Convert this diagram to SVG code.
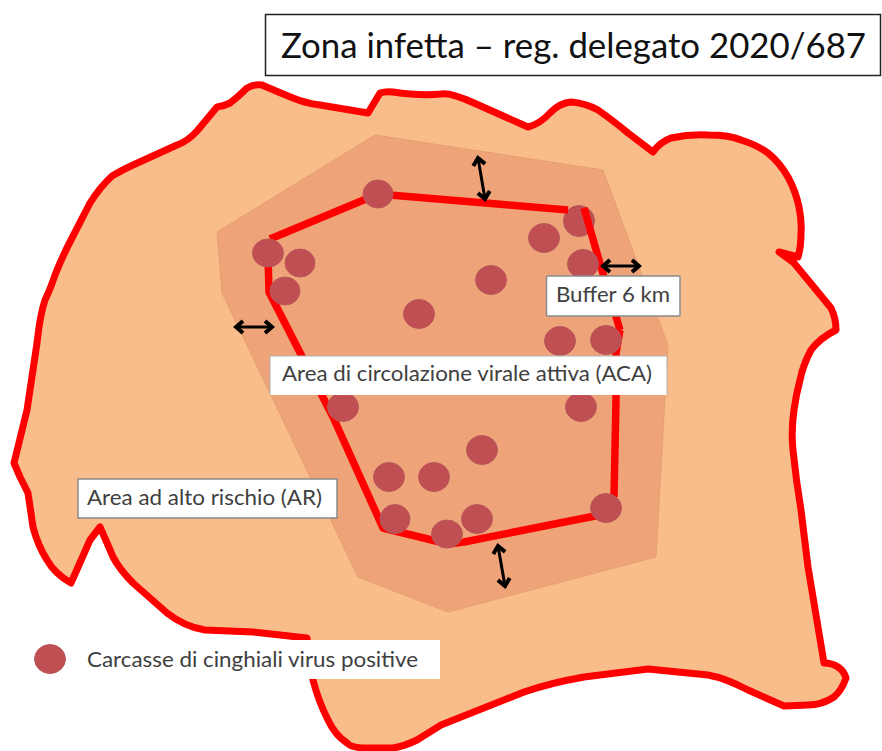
<svg xmlns="http://www.w3.org/2000/svg" width="882" height="751" viewBox="0 0 882 751">
<style>
.lbl{fill:#fff}
.edge{stroke:#8a8a8a;stroke-width:1.5}
.t{font-family:"Lato","Liberation Sans",sans-serif;font-size:20.500px;fill:#404040}
.dot{fill:#bf5052;stroke:#b8565a;stroke-width:1}
.red{fill:none;stroke:#f00;stroke-width:7.500;stroke-linejoin:round;stroke-linecap:butt}
.arr{stroke:#000;stroke-width:3;fill:none;marker-start:url(#ah);marker-end:url(#ah)}
</style>
<defs>
<marker id="ah" markerUnits="userSpaceOnUse" markerWidth="14" markerHeight="16" refX="11" refY="8" orient="auto-start-reverse">
<path d="M4 2L11 8L4 14" fill="none" stroke="#000" stroke-width="4"/>
</marker>
<filter id="soft" x="-5%" y="-5%" width="110%" height="110%"><feGaussianBlur stdDeviation="0.6"/></filter>
</defs>
<rect width="882" height="751" fill="#fff"/>
<g id="zone-ar" filter="url(#soft)">
<path d="M14 463L27 410L37 343Q40 315 45 300Q50 290 55 275Q63 255 72 238L90 203Q100 187 112 176Q122 170 133 165L177 145Q188 141 197 131L217 107Q224 106 230 103Q238 97 247 88Q254 84 262 85Q278 92 293 98Q305 103 320 105L368 113L380 93Q386 91 393 92Q420 96 441 94Q450 92 474 103L528 127Q540 124 551 112Q560 103 571 102Q585 103 598 110Q615 122 628 133L653 152Q660 142 671 138Q690 134 708 135Q730 135 741 140Q757 145 768 153Q780 163 788 177Q796 192 799 207Q802 222 801 233Q801 247 798 257L779 252L794 263L831 308Q836 318 836 330Q820 338 811 350Q803 365 800 380Q796 395 794 410Q791 430 793 450Q796 480 801 510L808 567L824 663Q832 663 838 667Q844 671 846 678Q842 690 834 697Q822 705 808 705L784 706L748 690Q725 678 708 675L648 669L584 677Q550 683 524 692L441 725L417 740Q405 746 393 748L362 748Q350 747 347 743Q335 735 328 720Q318 700 313 680L307 638L253 632L205 630Q185 627 167 613L133 583Q120 570 113 557Q108 545 100 527L90 540L71 583Q55 574 47 560Q38 546 33 527L28 493L20 477Z" fill="#f8bd8b" stroke="#f00" stroke-width="7" stroke-linejoin="round"/>
</g>
<g id="zone-buffer" filter="url(#soft)">
<path d="M217 232L375 135L603 170L668 345L656 557L448 612L358 577L222 293Z" fill="#eea478" stroke="#e5a06e" stroke-width="1"/>
</g>
<g id="zone-aca" filter="url(#soft)">
<path d="M620 330L616 353L616 400L614 497" class="red"/>
<circle class="dot" cx="579" cy="221" r="15.500"/>
<path d="M584 208L601 267L620 330" class="red"/>
<path d="M270 239L378 194L568 210" class="red"/>
<path d="M268 255L269 292L333 417L383 528L448 544L464 542L600 515" class="red"/>
</g>
<g id="carcasses" filter="url(#soft)">
<ellipse class="dot" cx="378" cy="194" rx="15" ry="14"/>
<ellipse class="dot" cx="268" cy="253" rx="15.500" ry="14"/>
<ellipse class="dot" cx="300" cy="263" rx="15" ry="14"/>
<ellipse class="dot" cx="285" cy="291" rx="15" ry="14"/>
<ellipse class="dot" cx="419" cy="314" rx="15.500" ry="14.500"/>
<ellipse class="dot" cx="491" cy="280" rx="15.500" ry="14.500"/>
<ellipse class="dot" cx="544" cy="238" rx="15.500" ry="14.500"/>
<ellipse class="dot" cx="583" cy="264" rx="15.500" ry="14.500"/>
<ellipse class="dot" cx="560" cy="341" rx="15.500" ry="14.500"/>
<ellipse class="dot" cx="606" cy="340" rx="15.500" ry="14.500"/>
<ellipse class="dot" cx="581" cy="407" rx="15.500" ry="14.500"/>
<ellipse class="dot" cx="343" cy="407" rx="15.500" ry="14.500"/>
<ellipse class="dot" cx="482" cy="450" rx="15.500" ry="14.500"/>
<ellipse class="dot" cx="389" cy="477" rx="15.500" ry="14.500"/>
<ellipse class="dot" cx="434" cy="477" rx="15.500" ry="14.500"/>
<ellipse class="dot" cx="395" cy="519" rx="15" ry="14.500"/>
<ellipse class="dot" cx="447" cy="534" rx="15.500" ry="14"/>
<ellipse class="dot" cx="477" cy="519" rx="15.500" ry="14.500"/>
<ellipse class="dot" cx="606" cy="508" rx="15.500" ry="14.500"/>
</g>
<g id="connectors">
<path class="arr" d="M478 158L485 199"/>
<path class="arr" d="M236 327L272 327"/>
<path class="arr" d="M603 266L639 266"/>
<path class="arr" d="M498 546L505 586"/>
</g>
<g id="label-title">
<rect x="265.500" y="14.500" width="615" height="61" fill="#fff" stroke="#222" stroke-width="1.500"/>
<text x="281" y="58" font-family="Lato,'Liberation Sans',sans-serif" font-size="35" fill="#111" textLength="585" lengthAdjust="spacingAndGlyphs">Zona infetta – reg. delegato 2020/687</text>
</g>
<g id="label-buffer">
<rect class="lbl edge" x="546.500" y="276" width="133.500" height="40" rx="1"/>
<text class="t" x="556" y="302" textLength="114" lengthAdjust="spacingAndGlyphs">Buffer 6 km</text>
</g>
<g id="label-aca">
<rect class="lbl" x="270" y="356" width="397" height="39"/>
<path d="M270 395V356H667V395" fill="none" stroke="#b0b0b0"/>
<text class="t" x="282" y="381" textLength="370" lengthAdjust="spacingAndGlyphs">Area di circolazione virale attiva (ACA)</text>
</g>
<g id="label-ar">
<rect class="lbl edge" x="78" y="479" width="259" height="39"/>
<text class="t" x="87" y="505" textLength="235" lengthAdjust="spacingAndGlyphs">Area ad alto rischio (AR)</text>
</g>
<g id="legend">
<rect class="lbl" x="80" y="640" width="360" height="39"/>
<ellipse class="dot" cx="50" cy="659" rx="15.500" ry="14.500" filter="url(#soft)"/>
<text class="t" x="87" y="667" textLength="331" lengthAdjust="spacingAndGlyphs">Carcasse di cinghiali virus positive</text>
</g>
</svg>
